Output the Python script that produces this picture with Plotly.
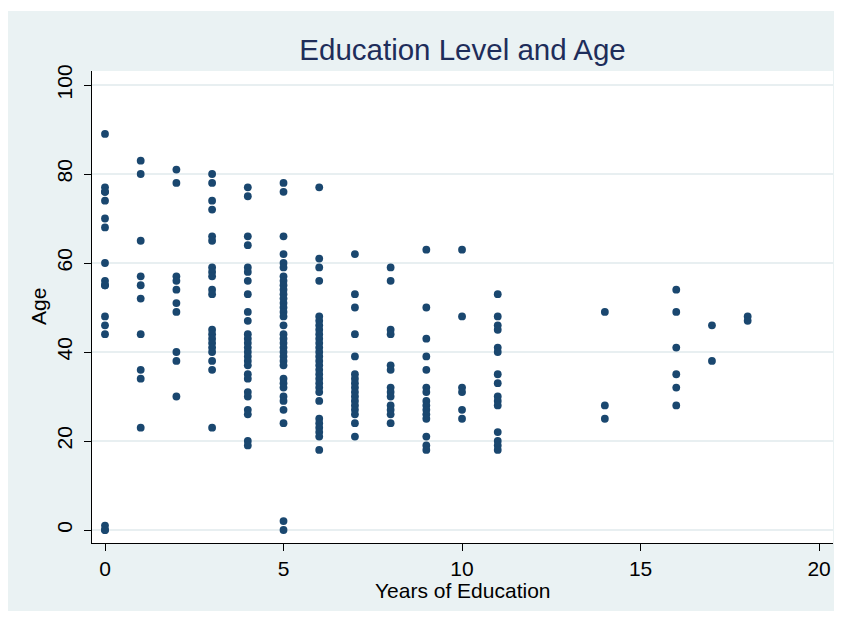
import plotly.graph_objects as go

# ---- data ----
edu_levels = [0, 1, 2, 3, 4, 5, 6, 7, 8, 9, 10, 11, 14, 16, 17, 18]
age_edu0 = [89, 77, 76, 76, 74, 70, 68, 60, 56, 55, 55, 48, 46, 44, 1, 0, 0]
age_edu1 = [83, 80, 65, 57, 55, 52, 44, 36, 34, 23]
age_edu2 = [81, 78, 57, 56, 54, 51, 49, 40, 38, 30]
age_edu3 = [80, 78, 74, 72, 66, 65, 59, 58, 57, 54, 53, 45, 44, 43, 42, 41, 40, 38, 36, 23]
age_edu4 = [77, 75, 66, 64, 59, 58, 56, 53, 49, 47, 44, 43, 42, 41, 40, 39, 38, 37, 35, 34,
            31, 30, 27, 26, 20, 19]
age_edu5 = [78, 76, 66, 62, 60, 59, 57, 56, 55, 54, 53, 52, 51, 50, 49, 48, 46, 44, 43, 42,
            41, 40, 39, 38, 37, 34, 33, 32, 30, 29, 27, 24, 2, 0]
age_edu6 = [77, 61, 59, 56, 48, 47, 46, 45, 44, 43, 42, 41, 40, 39, 38, 37, 36, 35, 34, 33,
            32, 31, 29, 25, 24, 23, 22, 21, 18]
age_edu7 = [62, 53, 50, 44, 39, 35, 34, 33, 32, 31, 30, 29, 28, 27, 26, 24, 21]
age_edu8 = [59, 56, 45, 44, 37, 36, 32, 31, 30, 28, 27, 26, 24]
age_edu9 = [63, 50, 43, 39, 36, 32, 31, 29, 28, 27, 26, 25, 21, 19, 18]
age_edu10 = [63, 48, 32, 31, 27, 25]
age_edu11 = [53, 48, 46, 45, 41, 40, 35, 33, 30, 29, 28, 22, 20, 19, 18]
age_edu14 = [49, 28, 25]
age_edu16 = [54, 49, 41, 35, 32, 28]
age_edu17 = [46, 38]
age_edu18 = [48, 47]

ages_per_level = [age_edu0, age_edu1, age_edu2, age_edu3, age_edu4, age_edu5, age_edu6,
                  age_edu7, age_edu8, age_edu9, age_edu10, age_edu11, age_edu14,
                  age_edu16, age_edu17, age_edu18]

x_ticks = [0, 5, 10, 15, 20]
y_ticks = [0, 20, 40, 60, 80, 100]

title_text = "Education Level and Age"
x_title = "Years of Education"
y_title = "Age"

xs, ys = [], []
for lvl, ages in zip(edu_levels, ages_per_level):
    for a in ages:
        xs.append(lvl)
        ys.append(a)

# ---- styling ----
# The page body has an 8px margin, so figure coords = reference coords - 8.
OFF = 8
W, H = 826, 603
ML = 92 - OFF
MT = 71 - OFF
PR = 833 - OFF      # plot right edge (figure px)
PB = 543 - OFF      # plot bottom edge (figure px)
MR = W - PR
MB = H - PB
PW = PR - ML
PH = PB - MT
panel = "#EAF2F3"
navy = "#1A476F"
font = "Liberation Sans, Arial, sans-serif"


def px_x(p_ref):
    return (p_ref - OFF - ML) / PW


def px_y(p_ref):
    return (PB - (p_ref - OFF)) / PH


fig = go.Figure()
fig.add_trace(go.Scatter(
    x=xs, y=ys, mode="markers",
    marker=dict(color=navy, size=7.8, line=dict(width=0)),
    showlegend=False, hoverinfo="x+y",
))

fig.update_layout(
    width=W, height=H,
    margin=dict(l=ML, r=MR, t=MT, b=MB, autoexpand=False),
    paper_bgcolor="white",
    plot_bgcolor="white",
    font=dict(family=font, color="black"),
    title=dict(text=title_text, x=0.5, xref="paper", xanchor="center",
               y=1 - (50 - OFF) / H, yref="container", yanchor="middle",
               font=dict(size=29.5, color="#1E2D5A", family=font)),
    shapes=[
        dict(type="rect", xref="paper", yref="paper", layer="below",
             x0=px_x(OFF), x1=px_x(W + OFF + 2), y0=px_y(H + OFF + 2), y1=px_y(11),
             fillcolor=panel, line=dict(width=0)),
        dict(type="rect", xref="paper", yref="paper", layer="below",
             x0=0, x1=1, y0=0, y1=1,
             fillcolor="white", line=dict(width=0)),
    ],
    annotations=[
        dict(text=x_title, xref="paper", yref="paper", x=0.5, y=px_y(590),
             xanchor="center", yanchor="middle", showarrow=False,
             font=dict(size=21, family=font, color="black")),
        dict(text=y_title, xref="paper", yref="paper", x=px_x(38), y=0.5,
             xanchor="center", yanchor="middle", showarrow=False, textangle=-90,
             font=dict(size=21, family=font, color="black")),
    ],
)

fig.update_xaxes(
    range=[-0.364, 20.39], tickvals=x_ticks, ticktext=[str(v) for v in x_ticks],
    showgrid=False, zeroline=False, showline=True, linecolor="black", linewidth=1,
    ticks="outside", ticklen=7, tickcolor="black", tickwidth=1,
    tickfont=dict(size=21, family=font, color="black"), fixedrange=True,
)
fig.update_yaxes(
    range=[-2.92, 103.15], tickvals=y_ticks, ticktext=[str(v) for v in y_ticks],
    showgrid=True, gridcolor="#E8EFF1", gridwidth=1.5, zeroline=False,
    showline=True, linecolor="black", linewidth=1,
    ticks="outside", ticklen=7, tickcolor="black", tickwidth=1, tickangle=-90,
    ticklabelstandoff=4,
    tickfont=dict(size=21, family=font, color="black"), fixedrange=True,
)

fig.write_html("out.html")
